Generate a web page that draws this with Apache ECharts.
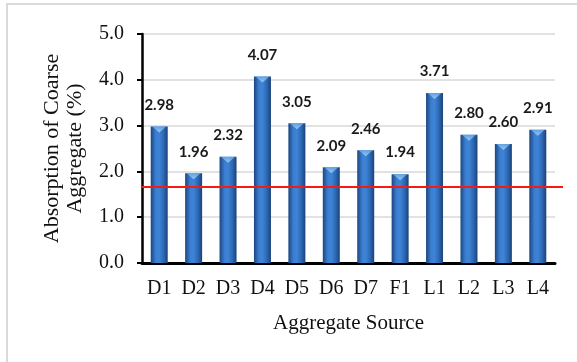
<!DOCTYPE html>
<html>
<head>
<meta charset="utf-8">
<script src="https://cdn.jsdelivr.net/npm/echarts@6/dist/echarts.min.js"></script>
<style>
  html, body { margin: 0; padding: 0; background: #fff; }
  #chart { width: 577px; height: 362px; }
</style>
</head>
<body>
<div id="chart"></div>
<script>
// Aggregate sources and their coarse-aggregate absorption (%)
const categories = ['D1', 'D2', 'D3', 'D4', 'D5', 'D6', 'D7', 'F1', 'L1', 'L2', 'L3', 'L4'];
const absorption = [2.98, 1.96, 2.32, 4.07, 3.05, 2.09, 2.46, 1.94, 3.71, 2.80, 2.60, 2.91];
const yTicks = [0, 1, 2, 3, 4, 5];
const limitValue = 1.66; // horizontal reference limit

const serif = '"Liberation Serif", "Times New Roman", serif';

const chart = echarts.init(document.getElementById('chart'), null, { renderer: 'canvas' });

const barFill = new echarts.graphic.LinearGradient(0, 0, 1, 0, [
  { offset: 0, color: '#1c467f' },
  { offset: 0.3, color: '#3b7fd2' },
  { offset: 0.5, color: '#3e83d6' },
  { offset: 0.75, color: '#2d69b5' },
  { offset: 1, color: '#1a4278' }
]);
const capFill = new echarts.graphic.LinearGradient(0, 0, 0, 1, [
  { offset: 0, color: '#acd8f8' },
  { offset: 1, color: '#6aa8e6' }
]);

chart.setOption({
  animation: false,
  backgroundColor: '#ffffff',
  grid: { left: 142, right: 22, top: 34, bottom: 99 },
  xAxis: {
    type: 'category',
    data: categories,
    name: 'Aggregate Source',
    nameLocation: 'middle',
    nameGap: 50,
    nameTextStyle: { fontFamily: serif, fontSize: 21, color: '#111' },
    axisLine: { show: true, lineStyle: { color: '#000', width: 3 } },
    axisTick: { show: false },
    axisLabel: { fontFamily: serif, fontSize: 20, color: '#111', margin: 16 }
  },
  yAxis: {
    type: 'value',
    min: yTicks[0],
    max: yTicks[yTicks.length - 1],
    interval: 1,
    name: 'Absorption of Coarse\nAggregate (%)',
    nameLocation: 'middle',
    nameGap: 55,
    nameTextStyle: { fontFamily: serif, fontSize: 22, color: '#111', lineHeight: 23 },
    axisLine: { show: true, lineStyle: { color: '#000', width: 2.5 } },
    axisTick: { show: true, length: 5, inside: false, lineStyle: { color: '#000', width: 2 } },
    axisLabel: {
      fontFamily: serif, fontSize: 20, color: '#111', margin: 18,
      formatter: v => v.toFixed(1)
    },
    splitLine: { show: true, lineStyle: { color: '#d9d9d9', width: 1.5 } }
  },
  series: [
    {
      type: 'bar',
      data: absorption,
      barWidth: 17,
      itemStyle: { color: barFill },
      label: {
        show: true,
        position: 'top',
        distance: 14,
        fontFamily: 'Lato, "Open Sans", sans-serif',
        fontWeight: 'bold',
        fontSize: 15,
        color: '#1a1a1a',
        formatter: p => p.value.toFixed(2)
      },
      z: 2
    },
    {
      // light conical cap at the top of each column
      type: 'scatter',
      data: absorption,
      symbol: 'triangle',
      symbolRotate: 180,
      symbolSize: [14, 6],
      symbolOffset: [0, 3],
      itemStyle: { color: capFill },
      silent: true,
      z: 3
    }
  ]
});

// Frame around the chart area and the red limit line, placed via the axis scales
function drawOverlay() {
  const y = chart.convertToPixel({ yAxisIndex: 0 }, limitValue);
  const x0 = chart.convertToPixel({ xAxisIndex: 0 }, 0) - 18;
  chart.setOption({
    graphic: [
      {
        type: 'rect',
        shape: { x: 7, y: 4, width: 620, height: 420 },
        style: { fill: null, stroke: '#dadada', lineWidth: 2 },
        silent: true
      },
      {
        type: 'line',
        shape: { x1: x0, y1: y, x2: 563, y2: y },
        style: { stroke: '#f41c12', lineWidth: 2 },
        z: 10,
        silent: true
      }
    ]
  });
}
drawOverlay();
</script>
</body>
</html>
